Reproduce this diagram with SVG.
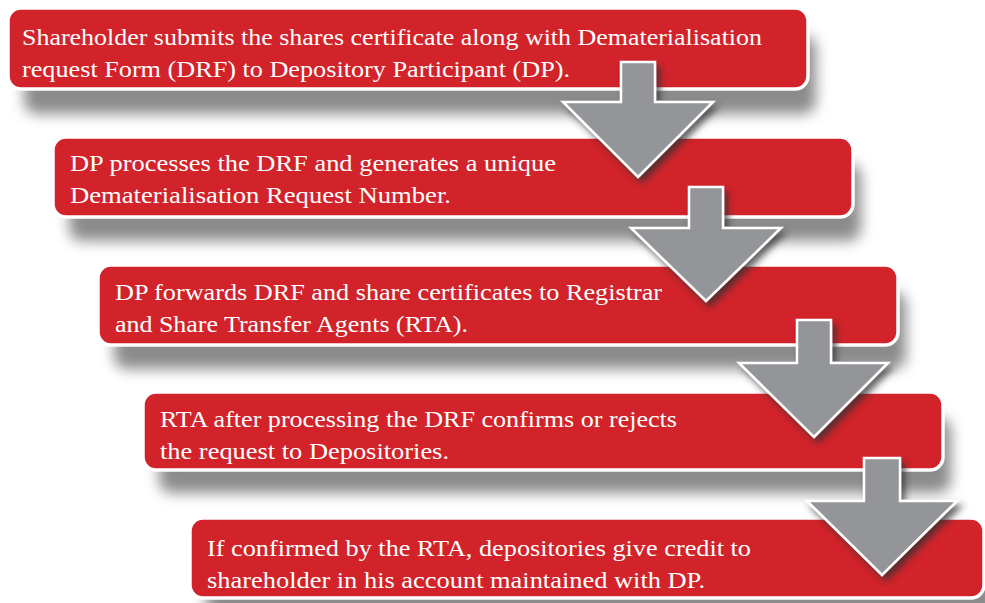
<svg xmlns="http://www.w3.org/2000/svg" width="985" height="603" viewBox="0 0 985 603">
<defs>
<filter id="blur" x="-10%" y="-50%" width="120%" height="200%">
<feGaussianBlur stdDeviation="7"/>
</filter>
<filter id="ash" x="-20%" y="-20%" width="150%" height="150%">
<feDropShadow dx="4" dy="5" stdDeviation="3.5" flood-color="#333" flood-opacity="0.75"/>
</filter>
<style>
.shd{fill:#777;opacity:0.85;filter:url(#blur)}
.box{fill:#d2232a;stroke:#fff;stroke-width:3.5}
.t{font-family:"Liberation Serif","DejaVu Serif",serif;font-size:24px;fill:#fff}
.arr{fill:#939598;stroke:#fff;stroke-width:2.5;stroke-linejoin:miter;filter:url(#ash)}
</style>
</defs>
<rect width="985" height="603" fill="#fff"/>
<g id="step1">
<rect class="shd" x="24" y="36" width="792" height="78" rx="13"/>
<rect class="box" x="8" y="8" width="800" height="81" rx="13"/>
<text class="t" x="22" y="45" textLength="740" lengthAdjust="spacingAndGlyphs">Shareholder submits the shares certificate along with Dematerialisation</text>
<text class="t" x="22" y="77" textLength="548" lengthAdjust="spacingAndGlyphs">request Form (DRF) to Depository Participant (DP).</text>
</g>
<g id="step2">
<rect class="shd" x="69" y="164" width="792" height="77" rx="13"/>
<rect class="box" x="53" y="137" width="800" height="80" rx="13"/>
<text class="t" x="70" y="171" textLength="486" lengthAdjust="spacingAndGlyphs">DP processes the DRF and generates a unique</text>
<text class="t" x="70" y="203" textLength="381" lengthAdjust="spacingAndGlyphs">Dematerialisation Request Number.</text>
</g>
<g id="step3">
<rect class="shd" x="114" y="292" width="792" height="77" rx="13"/>
<rect class="box" x="98" y="265" width="800" height="80" rx="13"/>
<text class="t" x="115" y="300" textLength="547" lengthAdjust="spacingAndGlyphs">DP forwards DRF and share certificates to Registrar</text>
<text class="t" x="115" y="332" textLength="353" lengthAdjust="spacingAndGlyphs">and Share Transfer Agents (RTA).</text>
</g>
<g id="step4">
<rect class="shd" x="159" y="418" width="792" height="75" rx="13"/>
<rect class="box" x="143" y="392" width="800" height="78" rx="13"/>
<text class="t" x="160" y="427" textLength="517" lengthAdjust="spacingAndGlyphs">RTA after processing the DRF confirms or rejects</text>
<text class="t" x="160" y="459" textLength="289" lengthAdjust="spacingAndGlyphs">the request to Depositories.</text>
</g>
<g id="step5">
<rect class="shd" x="206" y="545" width="792" height="72" rx="13"/>
<rect class="box" x="190" y="518" width="794" height="80" rx="13"/>
<text class="t" x="207" y="556" textLength="544" lengthAdjust="spacingAndGlyphs">If confirmed by the RTA, depositories give credit to</text>
<text class="t" x="207" y="588" textLength="498" lengthAdjust="spacingAndGlyphs">shareholder in his account maintained with DP.</text>
</g>
<g id="connectors">
<path class="arr" d="M621 62 H655 V102 H713 L638 177 L563 102 H621 Z"/>
<path class="arr" d="M689 187 H723 V228 H781 L706 301 L631 228 H689 Z"/>
<path class="arr" d="M797 320 H831 V363 H888 L814 437 L739 363 H797 Z"/>
<path class="arr" d="M864 458 H900 V501 H957 L882 575 L807 501 H864 Z"/>
</g>
</svg>
